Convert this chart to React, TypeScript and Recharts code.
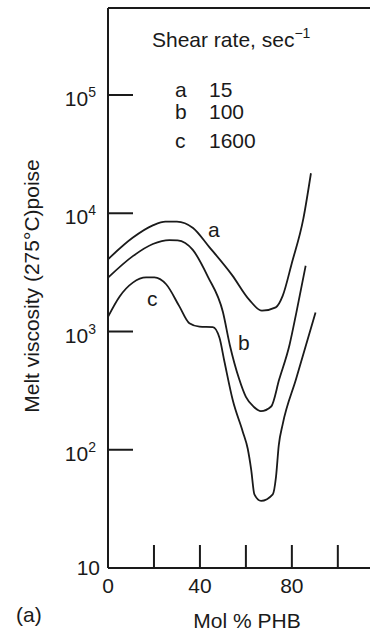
import React from "react";
import { LineChart, Line, XAxis, YAxis, ReferenceLine } from "recharts";

// mol % PHB and melt viscosity (poise)
const molA = [0, 10.7, 19.5, 25, 30, 37, 44, 54, 61.5, 67, 73, 76, 80, 85, 88.3];
const viscA = [4080, 6200, 7900, 8500, 8500, 7500, 5200, 3000, 1850, 1500, 1600, 2000, 3800, 9000, 21800];

const molB = [0, 10.8, 19.5, 26.7, 30.3, 36.9, 43.5, 50, 53, 57, 60, 63.5, 66.5, 71, 74.5, 79, 82, 86];
const viscB = [2850, 4340, 5500, 5930, 5900, 4900, 2900, 1460, 770, 400, 280, 230, 212, 232, 394, 774, 1460, 3600];

const molC = [0, 5, 10.8, 16.6, 20.2, 25.3, 31, 35.4, 39.8, 45.6, 48.5, 50.7, 54.3, 58.6, 60.8, 62.3, 63.7, 66.6, 71.7, 73.1, 74.3, 76, 81.8, 90.3];
const viscC = [1330, 1970, 2590, 2870, 2870, 2510, 1640, 1175, 1100, 1090, 885, 552, 262, 143, 102, 68, 42, 37, 42, 59, 109, 164, 394, 1450];

const xTicks = [0, 20, 40, 60, 80, 100];
const xLabeled = [0, 40, 80];
const yTicks = [10, 100, 1000, 10000, 100000];

const legendKeys = ["a", "b", "c"];
const legendRates = ["15", "100", "1600"];

const X_MAX = 114;
const Y_MAX = Math.pow(10, 5.736);

const FONT = "'Liberation Sans', Arial, sans-serif";
const INK = "#1a1a1a";

const rows = (xs: number[], ys: number[]) => xs.map((x, i) => ({ x, v: ys[i] }));

const YTick = (props: any) => {
  const { x, y, payload } = props;
  const exp = Math.round(Math.log10(payload.value));
  return (
    <g>
      {exp > 1 && <line x1={x} y1={y} x2={x + 25} y2={y} stroke={INK} strokeWidth={2} />}
      {exp > 1 ? (
        <text x={x - 12} y={y + 11} textAnchor="end" fontSize={21} fill={INK} fontFamily={FONT}>
          10
          <tspan dy={-9} fontSize={14}>{exp}</tspan>
        </text>
      ) : (
        <text x={x - 8} y={y + 7} textAnchor="end" fontSize={21} fill={INK} fontFamily={FONT}>
          10
        </text>
      )}
    </g>
  );
};

const XTick = (props: any) => {
  const { x, y, payload } = props;
  const v = payload.value;
  return (
    <g>
      {v > 0 && <line x1={x} y1={y} x2={x} y2={y - 23} stroke={INK} strokeWidth={2} />}
      {xLabeled.includes(v) && (
        <text x={x} y={y + 25} textAnchor="middle" fontSize={21} fill={INK} fontFamily={FONT}>
          {v}
        </text>
      )}
    </g>
  );
};

export default function App() {
  const txt = { fontSize: 21, fill: INK, fontFamily: FONT };
  return (
    <div style={{ position: "absolute", left: 0, top: 0, background: "#fff" }}>
      <LineChart width={370} height={633} margin={{ top: 8, right: 0, bottom: 0, left: 0 }}>
        <XAxis
          dataKey="x"
          type="number"
          domain={[0, X_MAX]}
          ticks={xTicks}
          tick={<XTick />}
          tickLine={false}
          tickSize={0}
          tickMargin={0}
          height={65}
          axisLine={{ stroke: INK, strokeWidth: 2 }}
          allowDataOverflow
        />
        <YAxis
          type="number"
          scale="log"
          domain={[10, Y_MAX]}
          ticks={yTicks}
          tick={<YTick />}
          tickLine={false}
          tickSize={0}
          tickMargin={0}
          width={108}
          axisLine={{ stroke: INK, strokeWidth: 2 }}
          allowDataOverflow
        />
        <ReferenceLine y={Y_MAX} stroke={INK} strokeWidth={2} />
        <Line data={rows(molA, viscA)} dataKey="v" type="monotone" stroke={INK} strokeWidth={1.8} dot={false} isAnimationActive={false} />
        <Line data={rows(molB, viscB)} dataKey="v" type="monotone" stroke={INK} strokeWidth={1.8} dot={false} isAnimationActive={false} />
        <Line data={rows(molC, viscC)} dataKey="v" type="monotone" stroke={INK} strokeWidth={1.8} dot={false} isAnimationActive={false} />

        <text x={31} y={286} transform="rotate(-90 31 286)" textAnchor="middle" dominantBaseline="central" {...txt}>
          Melt viscosity (275°C)poise
        </text>
        <text x={152} y={47} {...txt}>
          Shear rate, sec
          <tspan dy={-9} fontSize={14}>−1</tspan>
        </text>
        {legendKeys.map((k, i) => (
          <text key={k} x={175} y={[97, 119, 148][i]} {...txt}>
            {k}
          </text>
        ))}
        {legendRates.map((r, i) => (
          <text key={r} x={209} y={[97, 119, 148][i]} {...txt}>
            {r}
          </text>
        ))}
        <text x={208} y={237} {...txt}>a</text>
        <text x={238} y={350} {...txt}>b</text>
        <text x={147} y={306} {...txt}>c</text>
        <text x={247} y={628} textAnchor="middle" {...txt}>Mol % PHB</text>
        <text x={16} y={622} {...txt}>(a)</text>
      </LineChart>
    </div>
  );
}
